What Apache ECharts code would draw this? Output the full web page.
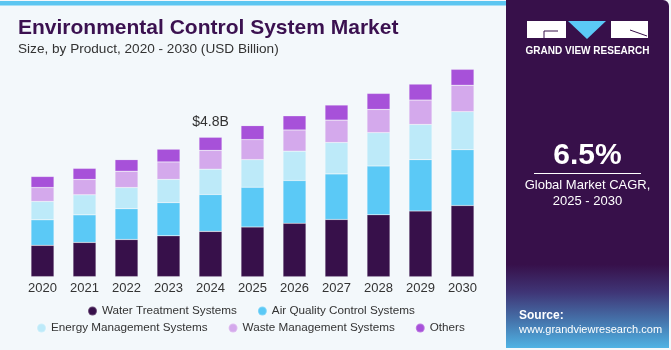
<!DOCTYPE html>
<html>
<head>
<meta charset="utf-8">
<script src="https://cdn.jsdelivr.net/npm/echarts@6/dist/echarts.min.js"></script>
<style>
  html, body { margin: 0; padding: 0; background: #f3f8fb; }
  #main { width: 671px; height: 350px; }
</style>
</head>
<body>
<div id="main"></div>
<script>
// values, USD billion
var years = ['2020','2021','2022','2023','2024','2025','2026','2027','2028','2029','2030']
var water = [1.08,1.18,1.28,1.41,1.56,1.71,1.84,1.97,2.13,2.26,2.45]
var airQuality = [0.88,0.95,1.06,1.14,1.27,1.37,1.47,1.57,1.68,1.77,1.92]
var energy = [0.63,0.69,0.73,0.80,0.87,0.95,1.01,1.08,1.15,1.21,1.31]
var waste = [0.48,0.53,0.56,0.60,0.65,0.69,0.73,0.77,0.80,0.84,0.91]
var others = [0.38,0.38,0.40,0.44,0.45,0.48,0.49,0.52,0.55,0.55,0.55]
var calloutYear = '2024'
var calloutText = '$4.8B'

var names = ['Water Treatment Systems','Air Quality Control Systems','Energy Management Systems','Waste Management Systems','Others']
var colors = ['#37104a','#5bc9f6','#bdeaf9','#d4a9ec','#a751d9']
var values = [water, airQuality, energy, waste, others]

var chart = echarts.init(document.getElementById('main'), null, {renderer:'canvas'})

function makeSeries(i){
  var data = values[i].map(function(v, k){
    if (i === values.length-1 && years[k] === calloutYear){
      return {value:v, label:{show:true, formatter:calloutText}}
    }
    return v
  })
  return {
    name:names[i],
    type:'bar',
    stack:'total',
    barWidth:23,
    itemStyle:{color:colors[i], borderColor:'rgba(255,255,255,0.25)', borderWidth:0.6},
    label:{show:false, position:'top', distance:8, fontSize:14, color:'#333', fontFamily:'Liberation Sans'},
    data:data
  }
}

var series = []
for (var i=0;i<names.length;i++) series.push(makeSeries(i))

var legendText = {fontSize:11.7, color:'#333', fontFamily:'Liberation Sans'}

chart.setOption({
  backgroundColor:'#f3f8fb',
  animation:false,
  color:colors,
  title:[{
    text:'Environmental Control System Market',
    left:18, top:18, padding:0,
    textStyle:{fontSize:21, fontWeight:'bold', color:'#3b1150', fontFamily:'Liberation Sans'}
  },{
    text:'Size, by Product, 2020 - 2030 (USD Billion)',
    left:18, top:42, padding:0,
    textStyle:{fontSize:13.6, fontWeight:'normal', color:'#333', fontFamily:'Liberation Sans'}
  }],
  legend:[{
    data:names.slice(0,2),
    left:87, top:305, padding:0,
    icon:'circle', itemWidth:9, itemHeight:9, itemGap:20,
    textStyle:legendText
  },{
    data:names.slice(2),
    left:36, top:322, padding:0,
    icon:'circle', itemWidth:9, itemHeight:9, itemGap:20,
    textStyle:legendText
  }],
  grid:{left:21.5, right:187.5, top:44.3, bottom:73.3, containLabel:false},
  xAxis:{
    type:'category',
    data:years,
    axisLine:{show:false},
    axisTick:{show:false},
    axisLabel:{fontSize:13, color:'#333', margin:5, fontFamily:'Liberation Sans'}
  },
  yAxis:{type:'value', min:0, max:8, show:false, splitLine:{show:false}},
  series:series,
  graphic:[
    {type:'rect', shape:{x:0,y:1,width:506,height:4.5}, style:{fill:'#5cc6f1'}, silent:true},
    {type:'rect', shape:{x:506,y:0,width:163,height:348,r:[0,6,0,0]}, silent:true,
      style:{fill:new echarts.graphic.LinearGradient(0,0,0,1,[
        {offset:0,color:'#37104a'},
        {offset:0.76,color:'#37104a'},
        {offset:0.84,color:'#3f3576'},
        {offset:0.92,color:'#4572aa'},
        {offset:1,color:'#4fb3e4'}
      ])}},
    // logo
    {type:'rect', shape:{x:527,y:21,width:39,height:17}, style:{fill:'#fff'}, silent:true},
    {type:'polyline', shape:{points:[[558,31],[544,31],[544,38]]}, style:{stroke:'#37104a', lineWidth:1, fill:null}, silent:true},
    {type:'polygon', shape:{points:[[568,21],[606,21],[587,39]]}, style:{fill:'#5bc9f6'}, silent:true},
    {type:'rect', shape:{x:611,y:21,width:37,height:17}, style:{fill:'#fff'}, silent:true},
    {type:'polyline', shape:{points:[[630,30],[647,36]]}, style:{stroke:'#37104a', lineWidth:1, fill:null}, silent:true},
    {type:'text', x:587.5, y:51, silent:true,
      style:{text:'GRAND VIEW RESEARCH', fill:'#fff', fontSize:10, fontWeight:'bold', fontFamily:'Liberation Sans', align:'center', verticalAlign:'middle'}},
    {type:'text', x:587.5, y:156, silent:true,
      style:{text:'6.5%', fill:'#fff', fontSize:30, fontWeight:'bold', fontFamily:'Liberation Sans', align:'center', verticalAlign:'middle'}},
    {type:'rect', shape:{x:534,y:173,width:107,height:1}, style:{fill:'#ffffff'}, silent:true},
    {type:'text', x:587.5, y:185.5, silent:true,
      style:{text:'Global Market CAGR,', fill:'#fff', fontSize:13, fontFamily:'Liberation Sans', align:'center', verticalAlign:'middle'}},
    {type:'text', x:587.5, y:201, silent:true,
      style:{text:'2025 - 2030', fill:'#fff', fontSize:13, fontFamily:'Liberation Sans', align:'center', verticalAlign:'middle'}},
    {type:'text', x:519, y:315.5, silent:true,
      style:{text:'Source:', fill:'#fff', fontSize:12, fontWeight:'bold', fontFamily:'Liberation Sans', align:'left', verticalAlign:'middle'}},
    {type:'text', x:519, y:330, silent:true,
      style:{text:'www.grandviewresearch.com', fill:'#fff', fontSize:11, fontFamily:'Liberation Sans', align:'left', verticalAlign:'middle'}}
  ]
})
</script>
</body>
</html>
